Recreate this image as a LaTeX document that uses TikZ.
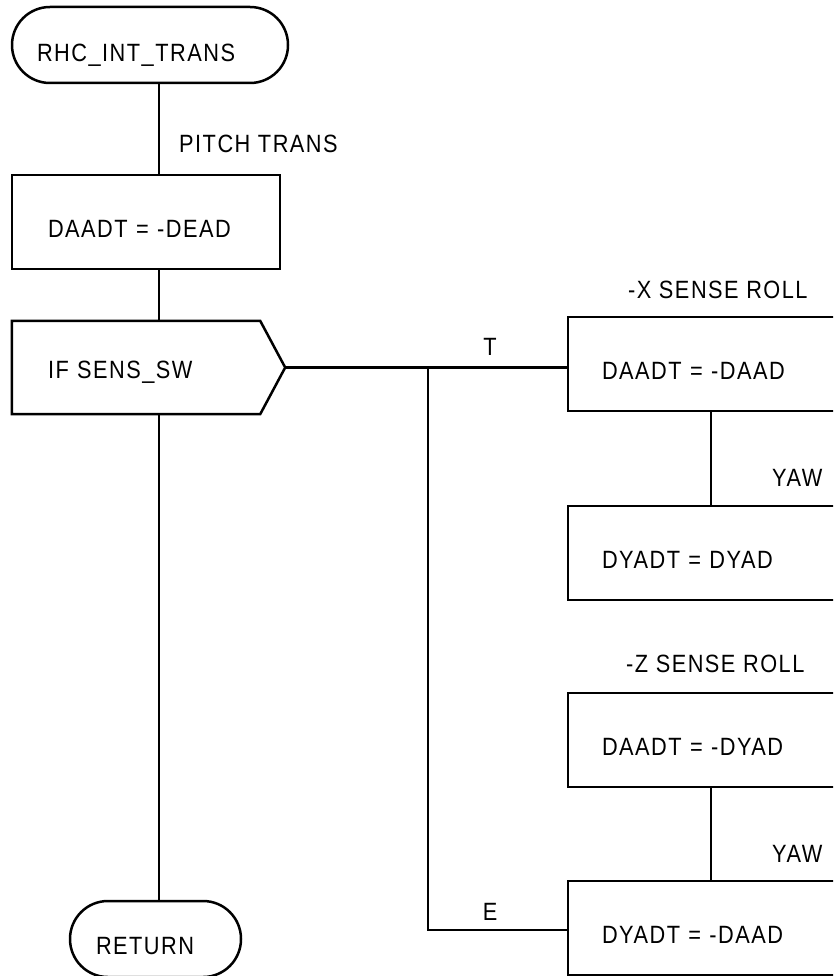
\documentclass[tikz,border=0pt]{standalone}
\usepackage{fontspec}
\setmainfont{Liberation Sans}[FakeStretch=0.87, LetterSpace=6]
\usetikzlibrary{calc}
\tikzset{
  flow/.style={line width=2.5pt, draw=black},
  txt/.style={font=\fontsize{25}{30}\selectfont, inner sep=0pt},
  procbox/.style={flow, rectangle, txt, align=left, minimum height=94pt,
    inner xsep=35pt, inner ysep=0pt, text height=40pt, text depth=10pt},
  termbox/.style={flow, rectangle, rounded corners=37.9pt, txt, align=left,
    minimum height=76pt, inner ysep=0pt, text depth=10pt},
  lbl/.style={txt, anchor=base west},
  lblc/.style={txt, anchor=base},
}
\begin{document}
\begin{tikzpicture}[x=1pt,y=-1pt]
\useasboundingbox (0,0) rectangle (833,976);
\clip (0,0) rectangle (833,976);

% spine coordinates
\coordinate (spine) at (159,0);
\coordinate (col) at (711,0);
\coordinate (branch) at (428,367.5);

% start terminal
\node[termbox, minimum width=276pt, text width=226pt, inner xsep=25pt, text height=44pt] (start) at (150,45) {RHC\_INT\_TRANS};

% box 1
\node[procbox, minimum width=268pt, text width=196pt, inner xsep=36pt] (box1) at (146,222) {DAADT = -DEAD};

% decision
\node[txt, align=left, minimum width=248pt, minimum height=93pt, text width=176pt, inner xsep=36pt, text height=31pt, text depth=10pt] (dec) at (136,367.5) {IF SENS\_SW};
\coordinate (tip) at ($(dec.east)+(25,0)$);
\draw[flow] (dec.north west) -- (dec.north east) -- (tip) -- (dec.south east) -- (dec.south west) -- cycle;

% right boxes
\node[procbox, minimum width=302pt, text width=234pt, inner xsep=34pt] (box2) at (719,364) {DAADT = -DAAD};
\node[procbox, minimum width=302pt, text width=234pt, inner xsep=34pt] (box3) at (719,553) {DYADT = DYAD};
\node[procbox, minimum width=302pt, text width=234pt, inner xsep=34pt] (box4) at (719,740) {DAADT = -DYAD};
\node[procbox, minimum width=302pt, text width=234pt, inner xsep=34pt] (box5) at (719,928) {DYADT = -DAAD};

% return terminal
\node[termbox, minimum width=171pt, text width=119pt, inner xsep=26pt, text height=40pt] (ret) at (155.5,939) {RETURN};

% labels
\node[lbl] (lpitch) at (179,153) {PITCH TRANS};
\node[lblc] (lT) at (490,355) {T};
\node[lblc] (lE) at (490,920) {E};
\node[lbl] (lx) at (628,298) {-X SENSE ROLL};
\node[lbl] (lyaw1) at (772,486) {YAW};
\node[lbl] (lz) at (626,672) {-Z SENSE ROLL};
\node[lbl] (lyaw2) at (772,862) {YAW};

% connectors
\draw[flow] (start.south -| spine) -- (box1.north -| spine);
\draw[flow] (box1.south -| spine) -- (dec.north -| spine);
\draw[flow] (dec.south -| spine) -- (ret.north -| spine);
\draw[flow] (tip) -- (tip -| box2.west);
\coordinate (ebranch) at (428,930);
\draw[flow] (branch) -- (ebranch) -- (ebranch -| box5.west);
\draw[flow] (box2.south -| col) -- (box3.north -| col);
\draw[flow] (box4.south -| col) -- (box5.north -| col);
\end{tikzpicture}
\end{document}
